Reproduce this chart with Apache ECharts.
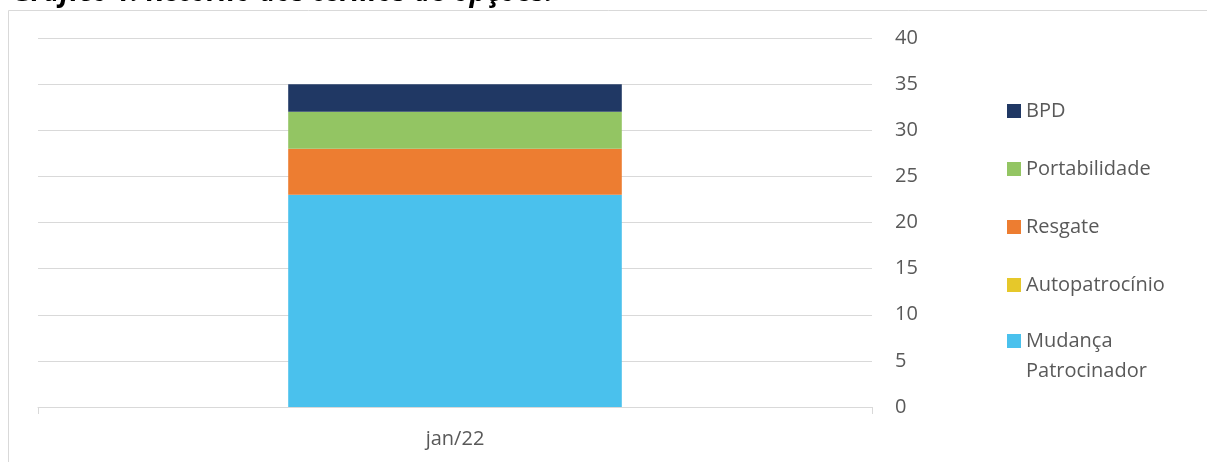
<!DOCTYPE html>
<html>
<head>
<meta charset="utf-8">
<script src="https://cdn.jsdelivr.net/npm/echarts@6/dist/echarts.min.js"></script>
<style>html,body{margin:0;padding:0;background:#fff;}#c{width:1207px;height:462px;}</style>
</head>
<body>
<div id="c"></div>
<script>
const categories = ['jan/22'];
const mudancaPatrocinador = [23];
const autopatrocinio = [0];
const resgate = [5];
const portabilidade = [4];
const bpd = [3];
const yTicks = { min: 0, max: 40, interval: 5 };
const titleText = 'Gráfico 1. Retorno dos termos de opções.';

const FONT = '"Open Sans", sans-serif';
const TXT = '#595959';
const chart = echarts.init(document.getElementById('c'));
const mk = (name, data, color) => ({
  name, type: 'bar', stack: 'total', data, barWidth: '40%',
  itemStyle: { color }, emphasis: { disabled: true }
});
const legendText = { color: TXT, fontFamily: FONT, fontSize: 20, lineHeight: 30 };
chart.setOption({
  animation: false,
  title: {
    text: titleText, left: 7, top: -26,
    textStyle: { fontFamily: FONT, fontSize: 28, fontWeight: 'bold', fontStyle: 'italic', color: '#000' }
  },
  graphic: [{
    type: 'rect', silent: true, z: -1,
    shape: { x: 8.5, y: 10.5, width: 1300, height: 600 },
    style: { fill: 'none', stroke: '#d9d9d9', lineWidth: 1 }
  }],
  grid: { left: 38, right: 335, top: 38, bottom: 55, containLabel: false },
  xAxis: {
    type: 'category', data: categories, boundaryGap: true,
    axisLine: { lineStyle: { color: '#d9d9d9', width: 1 } },
    axisTick: { show: true, length: 7, lineStyle: { color: '#d9d9d9' } },
    axisLabel: { color: TXT, fontFamily: FONT, fontSize: 20, margin: 22 }
  },
  yAxis: {
    type: 'value', position: 'right', min: yTicks.min, max: yTicks.max, interval: yTicks.interval,
    axisLine: { show: false }, axisTick: { show: false },
    splitLine: { lineStyle: { color: '#d9d9d9', width: 1 } },
    axisLabel: { color: TXT, fontFamily: FONT, fontSize: 20, margin: 23, align: 'left' }
  },
  legend: [{
    orient: 'vertical', left: 1002, top: 91, itemWidth: 14, itemHeight: 14, itemGap: 28,
    selectedMode: false, icon: 'rect', textStyle: legendText,
    data: ['BPD', 'Portabilidade', 'Resgate', 'Autopatrocínio']
  }, {
    orient: 'vertical', left: 1002, top: 291, itemWidth: 14, itemHeight: 14,
    selectedMode: false, icon: 'rect', textStyle: legendText,
    formatter: name => ' \n' + name.replace(' ', '\n'),
    data: ['Mudança Patrocinador']
  }],
  series: [
    mk('Mudança Patrocinador', mudancaPatrocinador, '#4AC1ED'),
    mk('Autopatrocínio', autopatrocinio, '#E6C82A'),
    mk('Resgate', resgate, '#ED7D31'),
    mk('Portabilidade', portabilidade, '#93C563'),
    mk('BPD', bpd, '#203864')
  ]
});
</script>
</body>
</html>
